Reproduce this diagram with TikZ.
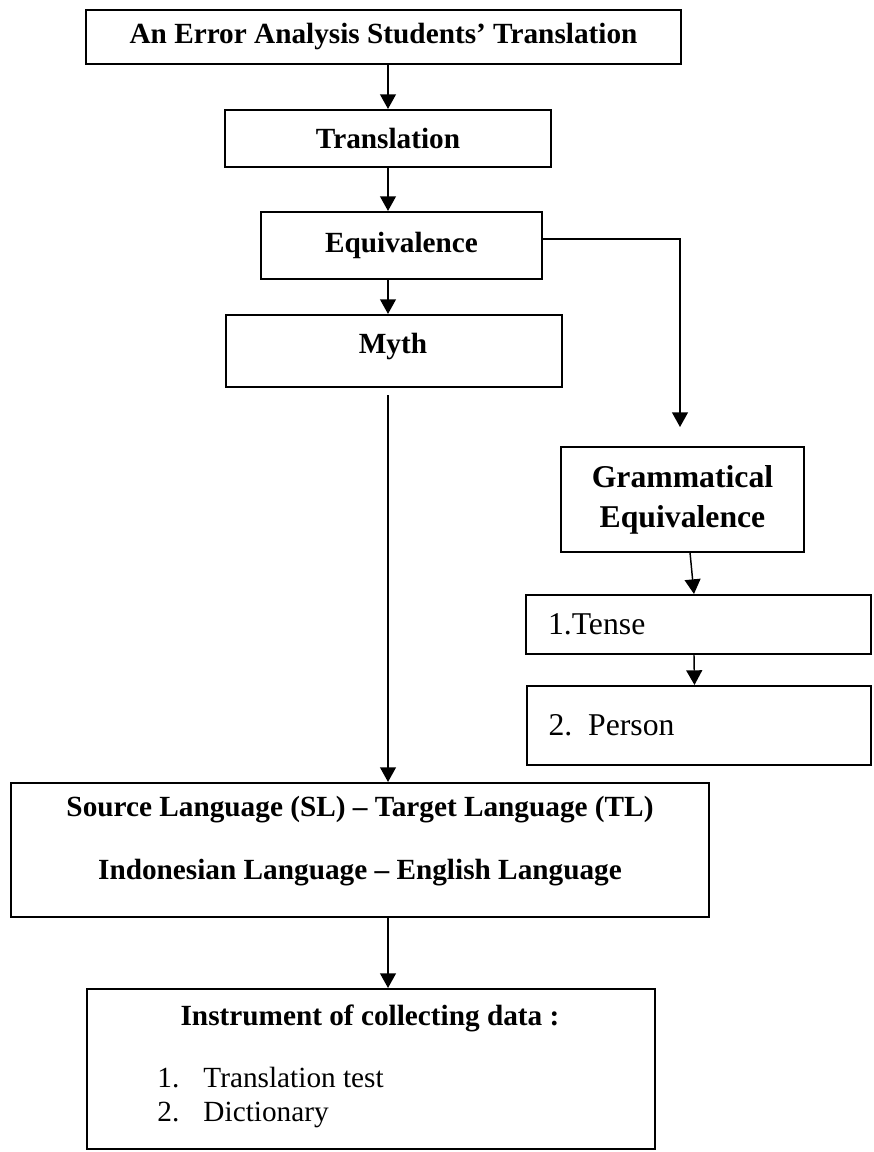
\documentclass[tikz,border=0pt]{standalone}
\usepackage{fontspec}
\setmainfont{Liberation Serif}
\usetikzlibrary{arrows.meta,positioning}

\begin{document}
\begin{tikzpicture}[x=0.41pt,y=-0.41pt,
  box/.style={draw,line width=0.85pt,inner sep=0pt,font=\bfseries\fontsize{12}{14}\selectfont},
  item/.style={box,align=left,inner xsep=9pt,text width=123.4pt,font=\fontsize{13}{15}\selectfont},
  plain/.style={inner sep=0pt,font=\fontsize{12}{14}\selectfont},
  arr/.style={-{Triangle[length=6pt,width=6.5pt]},line width=0.6pt}]
\useasboundingbox (0,0) rectangle (873,1152);
\coordinate (axis) at (388,0);

%Main chain
\node[box,minimum width=243.95pt,minimum height=22.14pt] (title) at (383.5,37) {An Error Analysis Students' Translation};
\node[box,minimum width=133.66pt,minimum height=23.37pt] (trans) at (388,138.5) {Translation};
\node[box,minimum width=115.21pt,minimum height=27.47pt] (equiv) at (401.5,245.5) {Equivalence};
\node[box,minimum width=137.76pt,minimum height=29.52pt] (myth) at (394,351) {};
\node[plain,font=\bfseries\fontsize{12}{14}\selectfont] (mythtxt) at (393,346) {Myth};

%Grammatical branch
\node[box,minimum width=99.63pt,minimum height=43.05pt,align=center,font=\bfseries\fontsize{13}{16.4}\selectfont] (gram) at (682.5,499.5) {Grammatical\\Equivalence};
\node[item,minimum height=24.19pt] (tense) at (698.5,624.5) {1.Tense};
\node[item,minimum height=32.39pt] (person) at (699,725.5) {2. Person};
\coordinate (gtip) at (680,427);

%Languages
\node[box,minimum width=286.18pt,minimum height=54.94pt] (sl) at (360,850) {};
\node[plain,font=\bfseries\fontsize{12}{14}\selectfont] (sltop) at (360,810) {Source Language (SL) -- Target Language (TL)};
\node[plain,font=\bfseries\fontsize{12}{14}\selectfont] (slbot) at (360,873) {Indonesian Language -- English Language};

%Instrument
\node[box,minimum width=232.88pt,minimum height=65.6pt] (inst) at (371,1069) {};
\node[plain,font=\bfseries\fontsize{12}{14}\selectfont] (insttxt) at (370,1018) {Instrument of collecting data :};
\foreach \n/\t in {1/Translation test,2/Dictionary}{
  \node[plain,anchor=base west] (num\n) at (157,{1053+34*\n}) {\n.};
  \node[plain,anchor=base west] (entry\n) at (203,{1053+34*\n}) {\t};
}

%Arrows
\draw[arr] (title.south -| axis) -- (trans.north -| axis);
\draw[arr] (trans.south -| axis) -- (equiv.north -| axis);
\draw[arr] (equiv.south -| axis) -- (myth.north -| axis);
\draw[arr,shorten <=3pt] (myth.south -| axis) -- (sl.north -| axis);
\draw[arr] ([yshift=2.7pt]equiv.east) -| (gtip);
\draw[arr] ([xshift=3.1pt]gram.south) -- ([xshift=-1.85pt]tense.north);
\draw[arr] ([xshift=-1.85pt]tense.south) -- ([xshift=-1.85pt]person.north);
\draw[arr] (sl.south -| axis) -- (inst.north -| axis);

\end{tikzpicture}
\end{document}
